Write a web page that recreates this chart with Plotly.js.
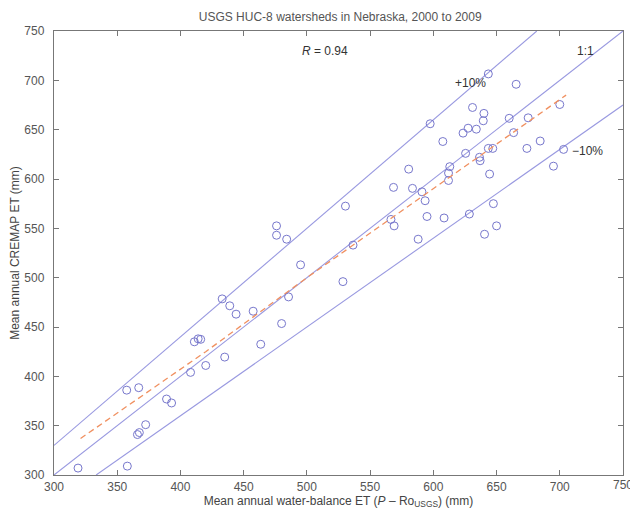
<!DOCTYPE html>
<html>
<head>
<meta charset="utf-8">
<script src="https://cdn.plot.ly/plotly-3.0.1.min.js"></script>
<style>html,body{margin:0;padding:0;background:#fff;overflow:hidden;}#chart{width:630px;height:515px;}</style>
</head>
<body>
<div id="chart"></div>
<script>
// Mean annual water-balance ET (P - Ro_USGS), mm
var waterBalanceET = [319, 358, 357.5, 367, 366, 367.5, 372.5, 389, 393, 408,
  411, 414, 416, 420, 433, 435, 439, 444, 457.5, 463.5,
  476, 476, 484, 480, 485.5, 495, 528.5, 530.5, 536.5, 566.5,
  569, 568.5, 580.5, 583.5, 588, 591, 593.5, 595, 597.5, 607.5,
  608.5, 612, 612, 613, 625.5, 623.5, 627.5, 628.5, 631, 634,
  636.5, 637, 639.5, 640, 640.5, 643.5, 644.5, 643.5, 647.5, 647,
  650, 660, 663.5, 665.5, 675, 674, 684.5, 695, 700, 703];
// Mean annual CREMAP ET, mm
var cremapET = [307, 309, 386, 388.5, 341, 343, 351, 377, 373, 404,
  435, 438, 437.5, 411, 478.5, 419.5, 471.5, 463, 466, 432.5,
  552.5, 543, 539, 453.5, 480.5, 513, 496, 572.5, 533, 559,
  552.5, 591.5, 610, 590.5, 539, 587, 578, 562, 656, 638,
  560.5, 598.5, 606, 612.5, 626, 646.5, 651.5, 564.5, 672.5, 650.5,
  622, 618.5, 659, 666.5, 544, 706.5, 605, 631, 575, 631,
  552.5, 661.5, 647, 696, 662, 631, 638.5, 613, 675.5, 630];
// Fitted (dashed) line
var fitX = [321, 420, 500, 605, 705];
var fitY = [337, 425, 500, 595, 685];
// Reference lines
var refX = [300, 750];
var oneToOneY = [300, 750];
var plus10X = [300, 750 / 1.1];
var plus10Y = [330, 750];
var minus10X = [300 / 0.9, 750];
var minus10Y = [300, 675];
var xTickVals = [300, 350, 400, 450, 500, 550, 600, 650, 700];
var lastXTick = 750;

var lineColor = '#9999e0';
var traces = [
  {x: refX, y: oneToOneY, mode: 'lines', line: {color: lineColor, width: 1.1}, hoverinfo: 'skip'},
  {x: plus10X, y: plus10Y, mode: 'lines', line: {color: lineColor, width: 1.1}, hoverinfo: 'skip'},
  {x: minus10X, y: minus10Y, mode: 'lines', line: {color: lineColor, width: 1.1}, hoverinfo: 'skip'},
  {x: waterBalanceET, y: cremapET, mode: 'markers',
   marker: {symbol: 'circle-open', size: 8, color: '#7777cc', line: {width: 1}}},
  {x: fitX, y: fitY, mode: 'lines', line: {color: '#f09060', width: 1.3, dash: '6px,4px'}, hoverinfo: 'skip'}
];

var fontFam = 'Liberation Sans, Arial, sans-serif';
var layout = {
  width: 630, height: 515,
  margin: {l: 54, r: 7, t: 31, b: 40},
  showlegend: false,
  paper_bgcolor: '#fff', plot_bgcolor: '#fff',
  font: {family: fontFam, size: 12, color: '#444'},
  title: {text: 'USGS HUC-8 watersheds in Nebraska, 2000 to 2009', x: 0.54, xanchor: 'center', y: 0.967, yanchor: 'middle',
          font: {family: fontFam, size: 12, color: '#555'}},
  xaxis: {
    range: [300, 750], tickmode: 'array', tickvals: xTickVals.concat([lastXTick]),
    ticktext: xTickVals.map(String).concat(['']),
    showgrid: false, zeroline: false,
    showline: true, mirror: 'ticks', linecolor: '#777', linewidth: 1.2,
    ticks: 'inside', ticklen: 5, tickcolor: '#777',
    tickfont: {family: fontFam, size: 12, color: '#555'},
    title: {text: 'Mean annual water-balance ET (<i>P</i> – Ro<sub>USGS</sub>) (mm)', standoff: 2,
            font: {family: fontFam, size: 12, color: '#444'}}
  },
  yaxis: {
    range: [300, 750], dtick: 50, tick0: 300, showgrid: false, zeroline: false,
    showline: true, mirror: 'ticks', linecolor: '#777', linewidth: 1.2,
    ticks: 'inside', ticklen: 5, tickcolor: '#777', ticklabelstandoff: 6,
    tickfont: {family: fontFam, size: 12, color: '#555'},
    title: {text: 'Mean annual CREMAP ET (mm)', standoff: 2,
            font: {family: fontFam, size: 12, color: '#444'}}
  },
  annotations: [
    {x: 514, y: 730, text: '<i>R</i> = 0.94', showarrow: false, font: {family: fontFam, size: 12, color: '#333'}},
    {x: 720, y: 730, text: '1:1', showarrow: false, font: {family: fontFam, size: 12, color: '#333'}},
    {x: 629, y: 697, text: '+10%', showarrow: false, font: {family: fontFam, size: 12, color: '#333'}},
    {x: 708, y: 628, text: '−10%', showarrow: false, xanchor: 'left', font: {family: fontFam, size: 12, color: '#333'}},
    {x: lastXTick, xref: 'x', y: 0, yref: 'paper', yanchor: 'top', yshift: -1, text: String(lastXTick), showarrow: false,
     font: {family: fontFam, size: 12, color: '#555'}}
  ]
};
Plotly.newPlot('chart', traces, layout, {staticPlot: true, displayModeBar: false});
</script>
</body>
</html>
